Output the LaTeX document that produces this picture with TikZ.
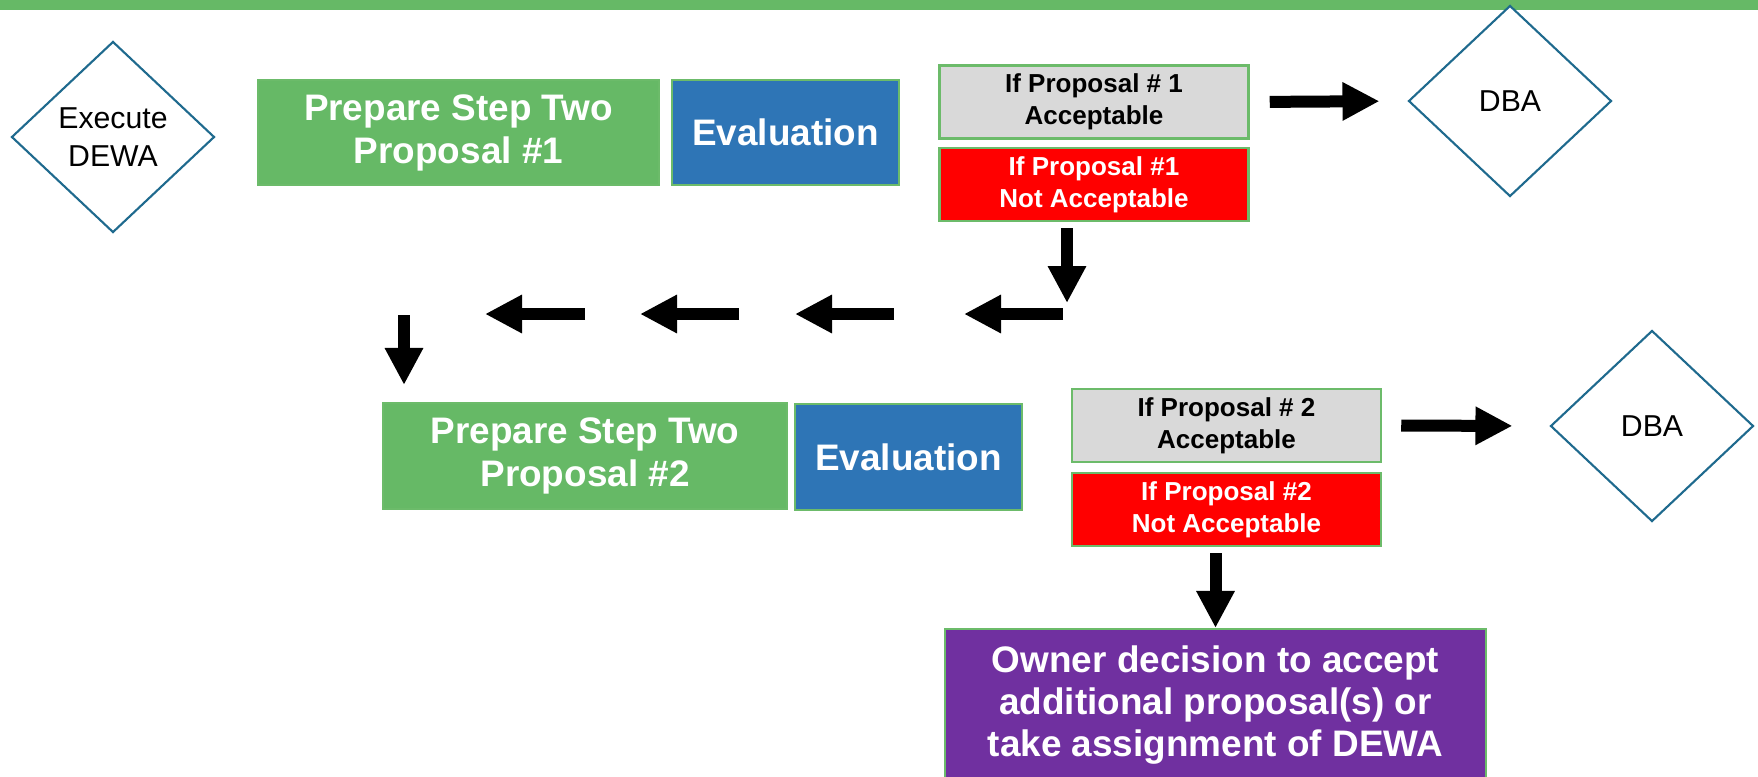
\documentclass[tikz,border=0pt]{standalone}
\usepackage{fontspec}
\setmainfont{Liberation Sans}
\usepackage{tikz}
\usetikzlibrary{shapes.geometric}
\usetikzlibrary{arrows.meta}

\definecolor{barGreen}{HTML}{66B966}
\definecolor{edgeGreen}{HTML}{6CBB6A}
\definecolor{evalBlue}{HTML}{2E75B6}
\definecolor{okGray}{HTML}{D9D9D9}
\definecolor{nogoRed}{HTML}{FF0000}
\definecolor{ownerPurple}{HTML}{7030A0}
\definecolor{diaBlue}{HTML}{1F6A8E}

\tikzset{
    decision/.style={diamond, draw=diaBlue, line width=0.6pt, fill=white,
        inner sep=0pt, aspect=1, minimum width=2.03cm, minimum height=1.91cm,
        align=center, font=\fontsize{8.6}{10.8}\selectfont},
    taskbox/.style={rectangle, draw=edgeGreen, line width=0.6pt, inner sep=0pt,
        text=white, align=center, font=\fontsize{10.5}{12.2}\selectfont\bfseries},
    outcome/.style={rectangle, draw=edgeGreen, line width=0.7pt, inner sep=0pt,
        minimum width=3.09cm, minimum height=0.73cm, align=center,
        font=\fontsize{7.4}{9.1}\selectfont\bfseries},
    blockarrow/.style={line width=0.12cm, -{Triangle[length=0.37cm,width=0.36cm]}}
}

\begin{document}
\begin{tikzpicture}
\useasboundingbox (0,0) rectangle (17.58,-7.76);
\fill[barGreen] (0,0) rectangle (17.58,-0.10);

% first round
\node[decision] (exec) at (1.13,-1.37) {Execute\\DEWA};
\node[taskbox, fill=barGreen, minimum width=4.01cm, minimum height=1.05cm] (prep1) at (4.585,-1.325) {Prepare Step Two\\Proposal \#1};
\node[taskbox, fill=evalBlue, minimum width=2.27cm, minimum height=1.05cm] (eval1) at (7.855,-1.325) {Evaluation};
\node[outcome, fill=okGray] (acc1) at (10.94,-1.02) {If Proposal \# 1\\Acceptable};
\node[outcome, fill=nogoRed, text=white] (rej1) at (10.94,-1.845) {If Proposal \#1\\Not Acceptable};
\node[decision] (dba1) at (15.10,-1.01) {DBA};

% second round
\node[taskbox, fill=barGreen, minimum width=4.04cm, minimum height=1.06cm] (prep2) at (5.85,-4.56) {Prepare Step Two\\Proposal \#2};
\node[taskbox, fill=evalBlue, minimum width=2.27cm, minimum height=1.06cm] (eval2) at (9.085,-4.57) {Evaluation};
\node[outcome, fill=okGray] (acc2) at (12.265,-4.255) {If Proposal \# 2\\Acceptable};
\node[outcome, fill=nogoRed, text=white] (rej2) at (12.265,-5.095) {If Proposal \#2\\Not Acceptable};
\node[decision] (dba2) at (16.52,-4.26) {DBA};

\node[taskbox, fill=ownerPurple, minimum width=5.41cm, minimum height=1.52cm,
    font=\fontsize{10.5}{12}\selectfont\bfseries] (owner) at (12.155,-7.05)
    {Owner decision to accept\\additional proposal(s) or\\take assignment of DEWA};

% accepted -> DBA
\draw[blockarrow, shorten <=0.2cm, shorten >=0.28cm] (acc1.east) -- (dba1.west);
\draw[blockarrow, shorten <=0.19cm, shorten >=0.37cm] (acc2.east) -- (dba2.west);

% rejected #1 -> back round to proposal #2
\coordinate (down1a) at (10.67,-2.28);
\coordinate (down1b) at (10.67,-3.03);
\draw[blockarrow] (down1a) -- (down1b);
\foreach \i/\xa/\xb in {1/10.63/9.64, 2/8.94/7.95, 3/7.39/6.40, 4/5.85/4.85} {
    \coordinate (back\i a) at (\xa,-3.14);
    \coordinate (back\i b) at (\xb,-3.14);
    \draw[blockarrow] (back\i a) -- (back\i b);
}
\coordinate (down2a) at (4.04,-3.15);
\draw[blockarrow, shorten >=0.17cm] (down2a) -- (down2a |- prep2.north);

% rejected #2 -> owner
\draw[blockarrow, shorten <=0.06cm] (rej2.south -| owner.north) -- (owner.north);
\end{tikzpicture}
\end{document}
